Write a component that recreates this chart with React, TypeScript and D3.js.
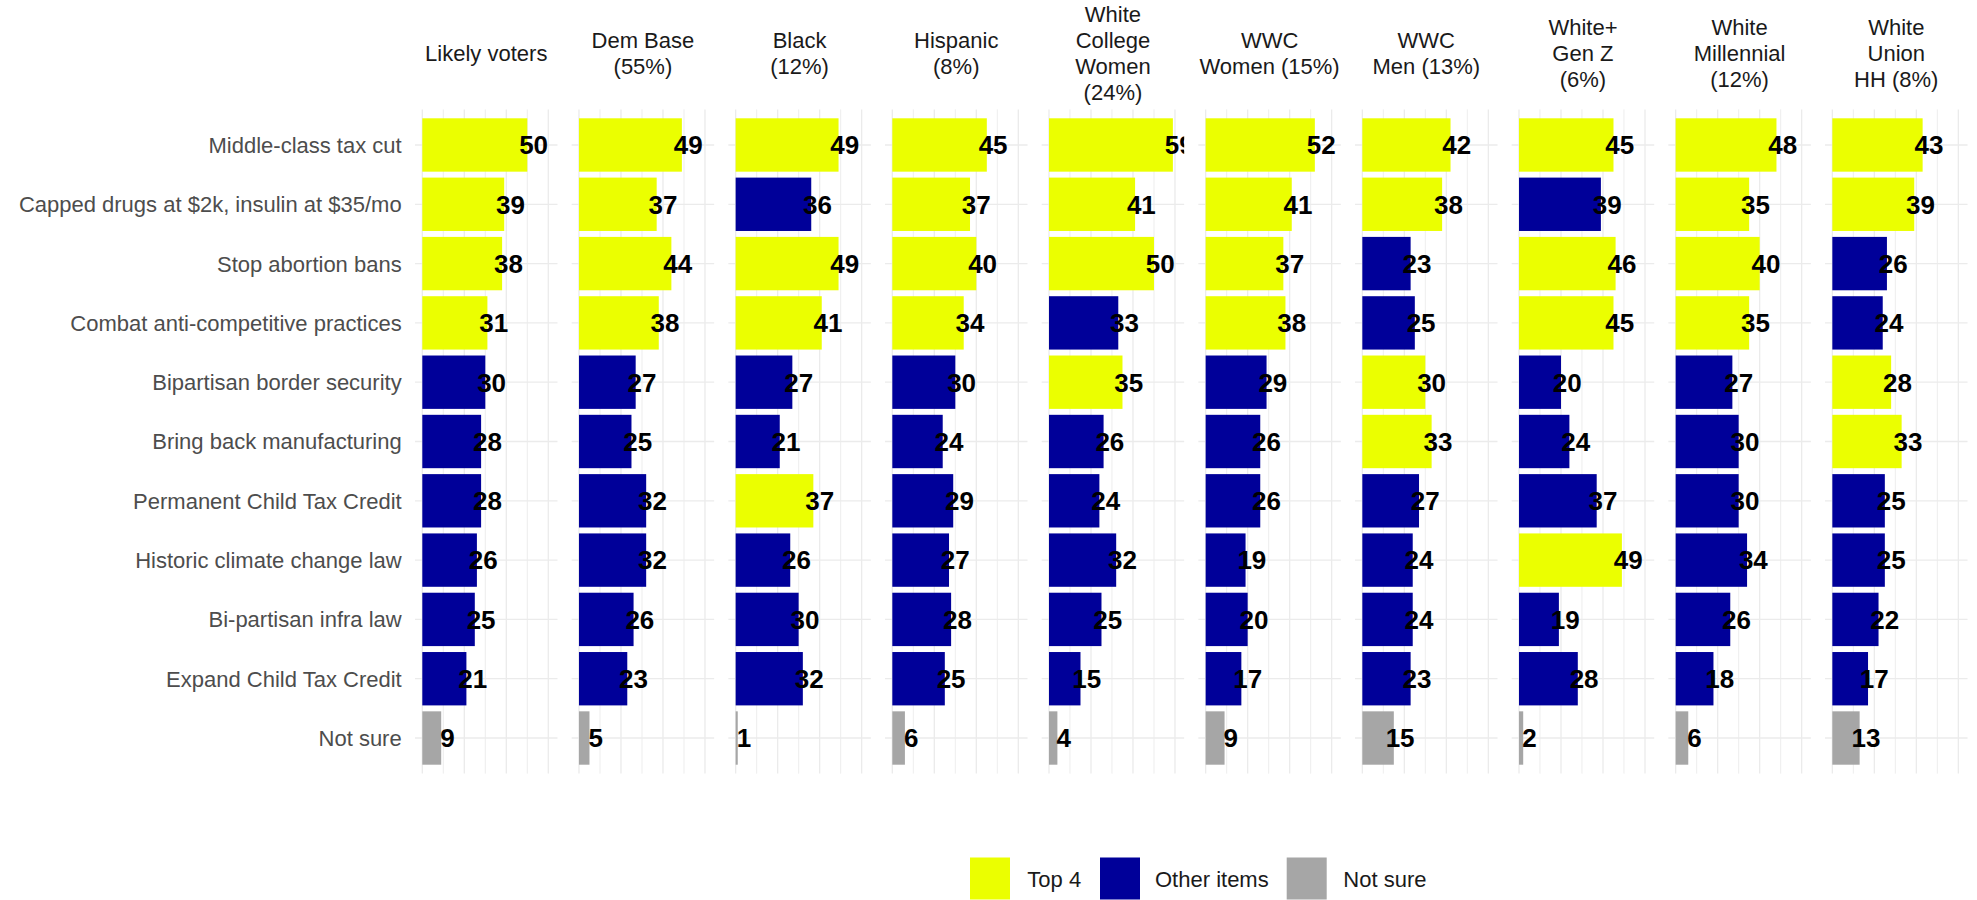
import React from "react";
import * as d3 from "d3";

// ---------- data ----------
const items = [
  "Middle-class tax cut",
  "Capped drugs at $2k, insulin at $35/mo",
  "Stop abortion bans",
  "Combat anti-competitive practices",
  "Bipartisan border security",
  "Bring back manufacturing",
  "Permanent Child Tax Credit",
  "Historic climate change law",
  "Bi-partisan infra law",
  "Expand Child Tax Credit",
  "Not sure",
];

const groupLabels = [
  ["Likely voters"],
  ["Dem Base", "(55%)"],
  ["Black", "(12%)"],
  ["Hispanic", "(8%)"],
  ["White", "College", "Women", "(24%)"],
  ["WWC", "Women (15%)"],
  ["WWC", "Men (13%)"],
  ["White+", "Gen Z", "(6%)"],
  ["White", "Millennial", "(12%)"],
  ["White", "Union", "HH (8%)"],
];

const likelyVoters = [50, 39, 38, 31, 30, 28, 28, 26, 25, 21, 9];
const demBase = [49, 37, 44, 38, 27, 25, 32, 32, 26, 23, 5];
const black = [49, 36, 49, 41, 27, 21, 37, 26, 30, 32, 1];
const hispanic = [45, 37, 40, 34, 30, 24, 29, 27, 28, 25, 6];
const whiteCollegeWomen = [59, 41, 50, 33, 35, 26, 24, 32, 25, 15, 4];
const wwcWomen = [52, 41, 37, 38, 29, 26, 26, 19, 20, 17, 9];
const wwcMen = [42, 38, 23, 25, 30, 33, 27, 24, 24, 23, 15];
const whiteGenZ = [45, 39, 46, 45, 20, 24, 37, 49, 19, 28, 2];
const whiteMillennial = [48, 35, 40, 35, 27, 30, 30, 34, 26, 18, 6];
const whiteUnionHH = [43, 39, 26, 24, 28, 33, 25, 25, 22, 17, 13];

const groupValues = [
  likelyVoters, demBase, black, hispanic, whiteCollegeWomen,
  wwcWomen, wwcMen, whiteGenZ, whiteMillennial, whiteUnionHH,
];

// indices of the "Top 4" items in each group
const top4Likely = [0, 1, 2, 3];
const top4Dem = [0, 1, 2, 3];
const top4Black = [0, 2, 3, 6];
const top4Hispanic = [0, 1, 2, 3];
const top4WCW = [0, 1, 2, 4];
const top4WWCWomen = [0, 1, 2, 3];
const top4WWCMen = [0, 1, 4, 5];
const top4GenZ = [0, 2, 3, 7];
const top4Millennial = [0, 1, 2, 3];
const top4Union = [0, 1, 4, 5];
const groupTop4 = [
  top4Likely, top4Dem, top4Black, top4Hispanic, top4WCW,
  top4WWCWomen, top4WWCMen, top4GenZ, top4Millennial, top4Union,
];

const xTicks = [0, 10, 20, 30, 40, 50, 60];
const legendLabels = ["Top 4", "Other items", "Not sure"];
const legendColors = ["#EBFF00", "#000099", "#A6A6A6"];

// ---------- layout ----------
const W = 1977;
const H = 900;
const FONT = "'Liberation Sans', Arial, Helvetica, sans-serif";
const panelLeft0 = 415;
const panelStep = 156.67;
const panelW = 142.5;
const panelTop = 109.4;
const panelBottom = 773.6;
const panelH = panelBottom - panelTop;
const stripCenterY = 53.5;
const stripLineH = 26;
const axisTextRight = 401.7;
const legendKeyX = [970, 1100, 1286.7];
const legendTextX = [1027.3, 1155, 1343.3];

function categoryOf(gi: number, ii: number): number {
  if (items[ii] === "Not sure") return 2;
  return groupTop4[gi].includes(ii) ? 0 : 1;
}

export default function App() {
  const x = d3.scaleLinear().domain([-3.48, 64.38]).range([0, panelW]);
  const y = d3
    .scaleBand<string>()
    .domain(items)
    .range([0, panelH])
    .paddingInner(0.1)
    .paddingOuter(0.15);
  const bw = y.bandwidth();

  return (
    <svg
      width={W}
      height={H}
      style={{ position: "absolute", left: 0, top: 0, background: "#fff" }}
      fontFamily={FONT}
    >
      <defs>
        {groupValues.map((_, gi) => (
          <clipPath id={`clip${gi}`} key={gi}>
            <rect x={0} y={0} width={panelW} height={panelH} />
          </clipPath>
        ))}
      </defs>

      {/* y axis labels */}
      {items.map((it) => (
        <text
          key={it}
          x={axisTextRight}
          y={panelTop + (y(it) as number) + bw / 2}
          dy="0.36em"
          textAnchor="end"
          fontSize={22}
          fill="#4d4d4d"
        >
          {it}
        </text>
      ))}

      {groupValues.map((vals, gi) => {
        const left = panelLeft0 + gi * panelStep;
        const lines = groupLabels[gi];
        return (
          <g key={gi}>
            {/* strip */}
            {lines.map((ln, li) => (
              <text
                key={li}
                x={left + panelW / 2}
                y={stripCenterY + (li - (lines.length - 1) / 2) * stripLineH}
                dy="0.36em"
                textAnchor="middle"
                fontSize={22}
                fill="#1a1a1a"
              >
                {ln}
              </text>
            ))}
            <g transform={`translate(${left},${panelTop})`}>
              {/* grid */}
              {xTicks.map((t, ti) => (
                <line
                  key={"v" + t}
                  x1={x(t)}
                  x2={x(t)}
                  y1={0}
                  y2={panelH}
                  stroke="#ebebeb"
                  strokeWidth={ti % 2 === 0 ? 1.3 : 0.9}
                />
              ))}
              {items.map((it) => (
                <line
                  key={"h" + it}
                  x1={0}
                  x2={panelW}
                  y1={(y(it) as number) + bw / 2}
                  y2={(y(it) as number) + bw / 2}
                  stroke="#ebebeb"
                  strokeWidth={1.3}
                />
              ))}
              <g clipPath={`url(#clip${gi})`}>
                {vals.map((v, ii) => (
                  <rect
                    key={"b" + ii}
                    x={x(0)}
                    y={y(items[ii]) as number}
                    width={Math.max(x(v) - x(0), 0.8)}
                    height={bw}
                    fill={legendColors[categoryOf(gi, ii)]}
                  />
                ))}
                {vals.map((v, ii) => (
                  <text
                    key={"t" + ii}
                    x={x(v + 3)}
                    y={(y(items[ii]) as number) + bw / 2}
                    dy="0.36em"
                    textAnchor="middle"
                    fontSize={26}
                    fontWeight="bold"
                    fill="#000"
                  >
                    {v}
                  </text>
                ))}
              </g>
            </g>
          </g>
        );
      })}

      {/* legend */}
      {legendLabels.map((lab, i) => (
        <g key={lab}>
          <rect x={legendKeyX[i]} y={857.5} width={40} height={42} fill={legendColors[i]} />
          <text x={legendTextX[i]} y={879} dy="0.36em" fontSize={22} fill="#1a1a1a">
            {lab}
          </text>
        </g>
      ))}
    </svg>
  );
}
